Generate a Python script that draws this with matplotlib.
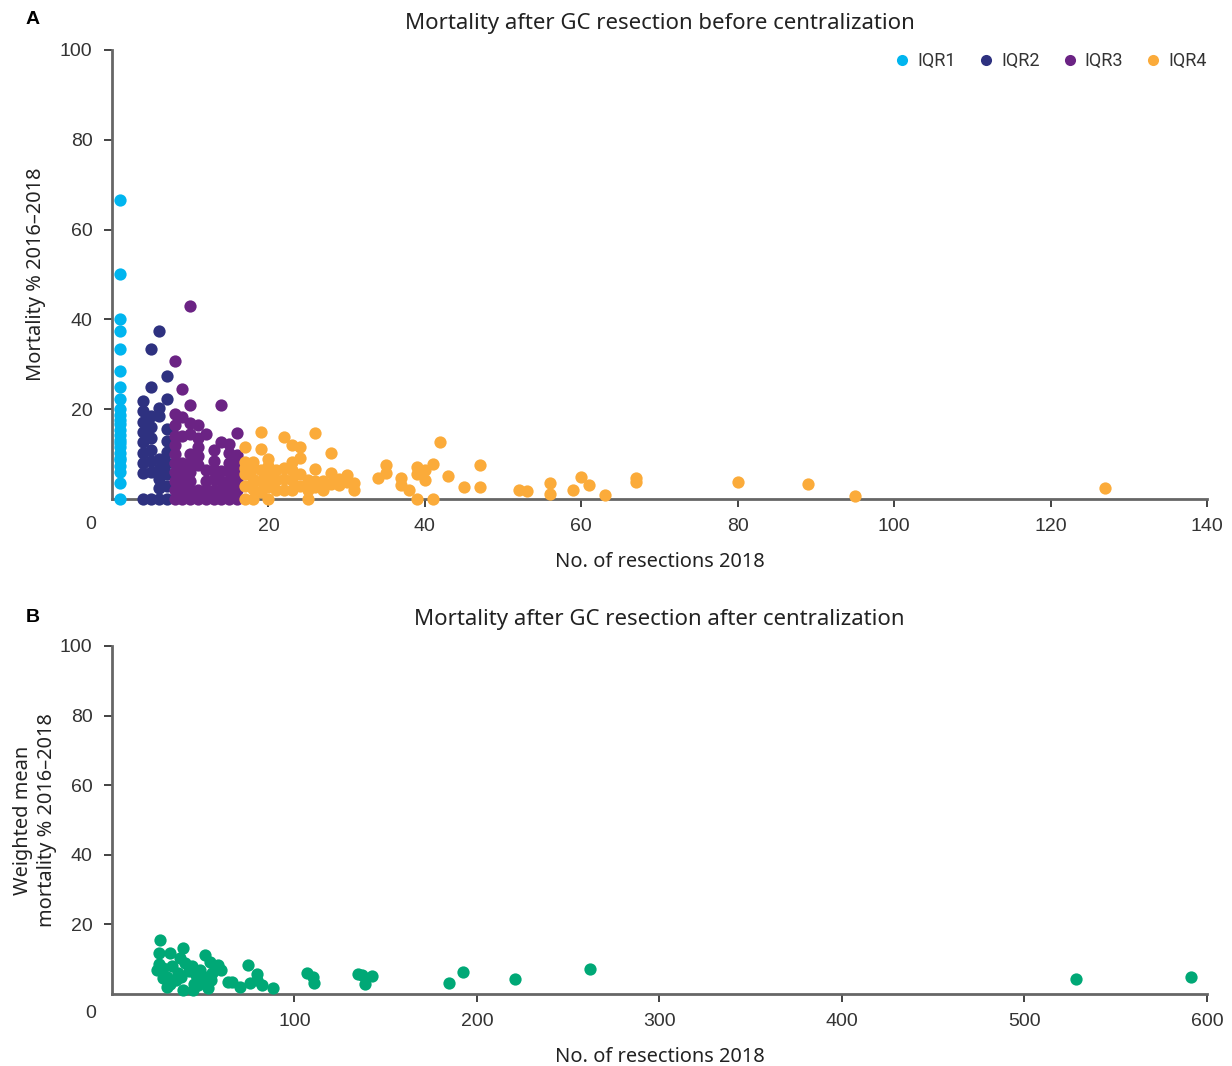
import matplotlib
matplotlib.use("Agg")
import matplotlib.pyplot as plt
from matplotlib.lines import Line2D

# ---- data: panel A (before centralization) ----
iqr1_x = [1, 1, 1, 1, 1, 1, 1, 1, 1, 1, 1, 1, 1, 1, 1, 1, 1, 1, 1, 1, 1, 1, 1, 1]
iqr1_y = [66.7, 50, 40, 37.5, 33.3, 28.6, 25, 22.2, 20, 18.7, 17.6, 16.7, 15.4, 14.3,
          13.1, 12.5, 11.6, 10.2, 9.1, 8.7, 7.3, 6.1, 3.5, 0]

iqr2_x = [4, 4, 4, 4, 4, 4, 4, 4, 4,
          5, 5, 5, 5, 5, 5, 5, 5, 5,
          6, 6, 6, 6, 6, 6, 6, 6,
          7, 7, 7, 7, 7, 7, 7, 7, 7]
iqr2_y = [0, 5.7, 8.0, 10.3, 12.6, 14.9, 17.2, 19.5, 21.8,
          0, 6.0, 8.5, 11.0, 13.5, 16.0, 18.5, 25.0, 33.3,
          0, 2.5, 4.5, 6.7, 9.0, 18.5, 20.3, 37.5,
          0, 3.0, 5.5, 8.0, 10.5, 13.0, 15.5, 22.2, 27.3]

iqr3_x = [8, 8, 8, 8, 8, 8, 8, 8, 8, 8, 8,
          9, 9, 9, 9, 9, 9, 9, 9,
          10, 10, 10, 10, 10, 10, 10, 10, 10, 10,
          11, 11, 11, 11, 11, 11, 11,
          12, 12, 12, 12, 12,
          13, 13, 13, 13, 13, 13,
          14, 14, 14, 14, 14, 14,
          15, 15, 15, 15, 15, 15, 15,
          16, 16, 16, 16, 16, 16, 16]
iqr3_y = [0, 2.0, 4.0, 6.0, 8.0, 10.0, 12.0, 14.0, 16.5, 19.0, 30.8,
          0, 2.0, 4.0, 6.0, 8.0, 14.0, 18.3, 24.4,
          0, 2.0, 4.0, 6.0, 8.0, 10.0, 14.5, 16.9, 20.9, 42.9,
          0, 2.0, 7.5, 9.5, 11.5, 13.5, 16.5,
          0, 2.0, 4.0, 6.5, 14.5,
          0, 2.0, 4.5, 6.5, 8.5, 10.9,
          0, 2.0, 4.0, 6.2, 12.8, 20.9,
          0, 2.0, 4.0, 6.0, 8.0, 10.2, 12.2,
          0, 2.0, 4.0, 6.0, 8.0, 9.8, 14.6]

iqr4_x = [17, 17, 17, 17, 17, 17,
          18, 18, 18, 18, 18,
          19, 19, 19, 19, 19,
          20, 20, 20, 20, 20,
          21, 21, 21,
          22, 22, 22, 22,
          23, 23, 23, 23, 23,
          24, 24, 24, 24,
          25, 25, 25,
          26, 26, 26, 26,
          27, 27,
          28, 28, 28,
          29, 29,
          30, 30,
          31, 31,
          34, 35, 35, 37, 37, 38, 39, 39, 39, 40, 40, 41, 41, 42, 43, 45, 47, 47,
          52, 53, 56, 56, 59, 60, 61, 63, 67, 67, 80, 89, 95, 127]
iqr4_y = [0, 3.0, 5.5, 8.3, 11.5, 7.0,
          0, 2.2, 4.5, 6.8, 8.3,
          1.6, 4.0, 6.5, 11.1, 15.0,
          0, 2.6, 5.0, 7.4, 8.8,
          2.0, 4.2, 6.5,
          2.0, 4.5, 7.0, 13.9,
          2.0, 4.3, 6.5, 8.3, 12.0,
          3.0, 5.5, 9.1, 11.6,
          0, 2.1, 4.2,
          2.6, 3.9, 6.6, 14.6,
          2.1, 4.0,
          3.3, 5.7, 10.3,
          3.1, 4.5,
          3.8, 5.3,
          2.1, 3.5,
          4.6, 5.9, 7.6, 4.6, 3.2, 2.0, 0, 5.6, 7.2, 4.2, 6.5, 7.8, 0, 12.8, 5.1, 2.6, 7.6, 2.6,
          2.0, 1.8, 3.5, 1.2, 2.0, 4.8, 3.2, 0.9, 4.6, 3.8, 3.8, 3.3, 0.7, 2.4]

# ---- data: panel B (after centralization) ----
after_x = [26.3, 25.9, 31.8, 39, 37.3, 51, 53.7, 58.2, 60, 24.5, 26, 28, 33, 36, 30, 35,
           40, 42, 44, 46, 48, 50, 52, 55, 54, 28, 32, 38, 45, 47, 30, 39, 44.5, 52.8,
           63.8, 66, 70, 74.7, 75.6, 79.3, 79.6, 82, 88.4, 106.8, 110, 110.7, 135, 137,
           138.6, 142.5, 184.7, 192.3, 220.8, 261.9, 528, 591]
after_y = [15.5, 11.9, 11.7, 13.1, 10.3, 11.2, 9.3, 8.3, 6.9, 6.9, 8.6, 7.5, 8.0, 6.0, 5.0, 4.0,
           9.0, 6.5, 8.0, 5.5, 7.0, 3.5, 5.0, 6.0, 4.0, 4.5, 3.0, 5.0, 3.0, 2.5, 2.1, 1.1, 1.1, 1.6,
           3.5, 3.5, 2.1, 8.3, 3.1, 5.9, 4.0, 2.6, 1.6, 6.0, 4.9, 3.2, 5.7, 5.5,
           2.9, 5.2, 3.2, 6.3, 4.3, 7.2, 4.3, 4.9]

groups = ["IQR1", "IQR2", "IQR3", "IQR4"]
group_colors = ["#00B5EF", "#2E3180", "#6B2384", "#FBAB3A"]
green = "#00A876"

text_font = "Noto Sans"
tick_font = "Liberation Sans"
spine_col = "#666666"
dot = 78

fig = plt.figure(figsize=(12.32, 10.66), dpi=100)
axA = fig.add_axes([0.0909, 0.5319, 0.8888, 0.4212])
axB = fig.add_axes([0.0909, 0.0675, 0.8888, 0.3265])


def style_axis(ax, xmax, xstep):
    for s in ["top", "right"]:
        ax.spines[s].set_visible(False)
    for s in ["left", "bottom"]:
        ax.spines[s].set_color(spine_col)
        ax.spines[s].set_linewidth(2)
    ax.set_xlim(0, xmax)
    ax.set_ylim(0, 100)
    ax.set_xticks(list(range(xstep, xmax + 1, xstep)))
    ax.set_yticks([20, 40, 60, 80, 100])
    ax.tick_params(axis="both", length=6, width=1.2, color="#222222",
                   labelsize=14, labelcolor="#333333", pad=8)
    for lab in ax.get_xticklabels() + ax.get_yticklabels():
        lab.set_fontfamily(tick_font)
    # origin label sits below-left of the corner
    ax.text(-0.019, -0.057, "0", transform=ax.transAxes, ha="center", va="center",
            fontsize=14, color="#333333", fontfamily=tick_font)


style_axis(axA, 140, 20)
axA.scatter(iqr1_x, iqr1_y, s=dot, color=group_colors[0], linewidths=0, clip_on=False, zorder=3)
axA.scatter(iqr2_x, iqr2_y, s=dot, color=group_colors[1], linewidths=0, clip_on=False, zorder=3)
axA.scatter(iqr3_x, iqr3_y, s=dot, color=group_colors[2], linewidths=0, clip_on=False, zorder=3)
axA.scatter(iqr4_x, iqr4_y, s=dot, color=group_colors[3], linewidths=0, clip_on=False, zorder=3)
axA.set_title("Mortality after GC resection before centralization", fontsize=16,
              fontfamily=text_font, color="#222222", pad=15)
axA.set_xlabel("No. of resections 2018", fontsize=14.4, fontfamily=text_font,
               color="#222222", labelpad=12)
axA.set_ylabel("Mortality % 2016\u20132018", fontsize=14.4, fontfamily=text_font,
               color="#222222", labelpad=10)

handles = [Line2D([], [], marker="o", linestyle="", markersize=8, color=c,
                  markeredgewidth=0) for c in group_colors]
leg = axA.legend(handles, groups, loc="upper right", ncol=4, frameon=False,
                 bbox_to_anchor=(1.0, 0.995), borderpad=0, borderaxespad=0,
                 handlelength=1.0, handletextpad=0.35, columnspacing=1.15,
                 prop={"family": "Roboto", "size": 13})
for t in leg.get_texts():
    t.set_color("#333333")

style_axis(axB, 600, 100)
axB.scatter(after_x, after_y, s=dot, color=green, linewidths=0, clip_on=False, zorder=3)
axB.set_title("Mortality after GC resection after centralization", fontsize=16,
              fontfamily=text_font, color="#222222", pad=15)
axB.set_xlabel("No. of resections 2018", fontsize=14.4, fontfamily=text_font,
               color="#222222", labelpad=12)
axB.set_ylabel("Weighted mean\nmortality % 2016\u20132018", fontsize=14.4,
               fontfamily=text_font, color="#222222", labelpad=2, linespacing=1.3)

fig.text(33 / 1232, 1 - 20 / 1066, "A", fontsize=14, fontweight="bold",
         fontfamily=tick_font, ha="center", va="center")
fig.text(33 / 1232, 1 - 618 / 1066, "B", fontsize=14, fontweight="bold",
         fontfamily=tick_font, ha="center", va="center")

fig.savefig("out.png", dpi=100)
